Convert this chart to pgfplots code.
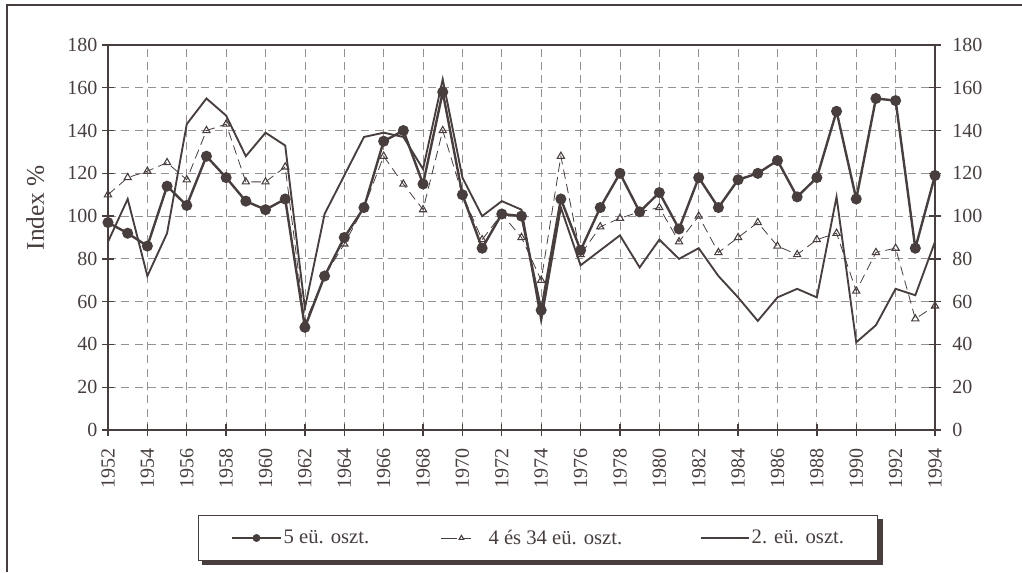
\documentclass[border=0pt]{standalone}
\usepackage{fontspec}
\setmainfont{Liberation Serif}
\usepackage{pgfplots}
\pgfplotsset{compat=1.18}
\definecolor{ink}{RGB}{72,62,62}
\definecolor{gridc}{RGB}{150,144,144}

% index values
\pgfplotstableread{
year a   b   c
1952 97  110 88
1953 92  118 108
1954 86  121 72
1955 114 125 92
1956 105 117 143
1957 128 140 155
1958 118 143 147
1959 107 116 128
1960 103 116 139
1961 108 123 133
1962 48  50  57
1963 72  72  101
1964 90  87  119
1965 104 104 137
1966 135 128 139
1967 140 115 137
1968 115 103 122
1969 158 140 164
1970 110 110 118
1971 85  89  100
1972 101 101 107
1973 100 90  103
1974 56  70  51
1975 108 128 104
1976 84  82  77
1977 104 95  84
1978 120 99  91
1979 102 102 76
1980 111 104 89
1981 94  88  80
1982 118 100 85
1983 104 83  72
1984 117 90  62
1985 120 97  51
1986 126 86  62
1987 109 82  66
1988 118 89  62
1989 149 92  109
1990 108 65  41
1991 155 83  49
1992 154 85  66
1993 85  52  63
1994 119 58  88
}\idx

\pgfplotsset{
  img1/.style={legend image code/.code={%
    \draw[mark repeat=2,mark phase=2,mark size=2pt,##1] plot coordinates {(0pt,0pt)(18.5pt,0pt)(37pt,0pt)};}},
  img2/.style={legend image code/.code={%
    \draw[mark repeat=2,mark phase=2,mark size=2pt,##1,dash pattern=on 12pt off 4pt] plot coordinates {(0pt,0pt)(15pt,0pt)(22pt,0pt)};}},
  img3/.style={legend image code/.code={%
    \draw[##1] (0pt,0pt) -- (36pt,0pt);}},
  common/.style={
    at={(81pt,106.5pt)}, anchor=south west,
    scale only axis, width=620.25pt, height=288.75pt,
    xmin=1952, xmax=1994, ymin=0, ymax=180,
    ytick={0,20,...,180},
    axis line style={ink, line width=1pt},
    major tick style={ink, line width=1pt},
    tick align=center, major tick length=9pt,
    ticklabel style={font=\fontsize{15}{18}\selectfont, text=ink},
    /pgf/number format/assume math mode=true,
    /pgf/number format/1000 sep={},
  }
}

\begin{document}
\begin{tikzpicture}[x=0.75pt,y=0.75pt]
\useasboundingbox (0,0) rectangle (1022,572);
\draw[ink, line width=1.5pt] (7,0) -- (7,567) -- (1022,567);

\begin{axis}[
  common,
  xtick={1952,1954,...,1994},
  xtick pos=bottom, ytick pos=left,
  xticklabel style={yshift=-6pt, rotate=90, anchor=east},
  grid=major,
  major grid style={gridc, dash pattern=on 6pt off 4pt, line width=0.6pt},
  ylabel={Index \%},
  every axis y label/.style={at={(axis description cs:-0.088,0.577)}, rotate=90,
    anchor=center, font=\fontsize{19}{22}\selectfont, text=ink},
  legend columns=3,
  legend style={name=leg, at={(0.520,-0.2805)}, anchor=center, draw=ink, line width=0.8pt,
    fill=white, font=\fontsize{15.5}{18}\selectfont, text=ink,
    inner xsep=24pt, inner ysep=8.5pt, nodes={inner xsep=1pt}},
]
\addplot[ink, line width=1.8pt, mark=*, mark size=3.2pt, mark options={fill=ink}, img1]
  table[x=year,y=a]{\idx};
\addlegendentry{\makebox[117pt][l]{5 eü. oszt.}}
\addplot[ink, line width=0.6pt, dash pattern=on 7pt off 4pt, mark=triangle, mark size=3.1pt,
  mark options={solid, fill=white, line width=0.8pt}, img2]
  table[x=year,y=b]{\idx};
\addlegendentry{\makebox[170pt][l]{\hspace{12pt}4 és 34 eü. oszt.}}
\addplot[ink, line width=1.4pt, img3]
  table[x=year,y=c]{\idx};
\addlegendentry{2. eü. oszt.}
\end{axis}

\begin{axis}[
  common,
  hide x axis,
  axis y line*=right,
  yticklabel style={anchor=west, xshift=5pt},
]
\end{axis}

% shadow of the legend box
\fill[ink] ([yshift=-3pt]leg.north east) rectangle ([xshift=3.5pt,yshift=-3.5pt]leg.south east);
\fill[ink] ([xshift=3pt]leg.south west) rectangle ([xshift=3.5pt,yshift=-3.5pt]leg.south east);
\end{tikzpicture}
\end{document}
